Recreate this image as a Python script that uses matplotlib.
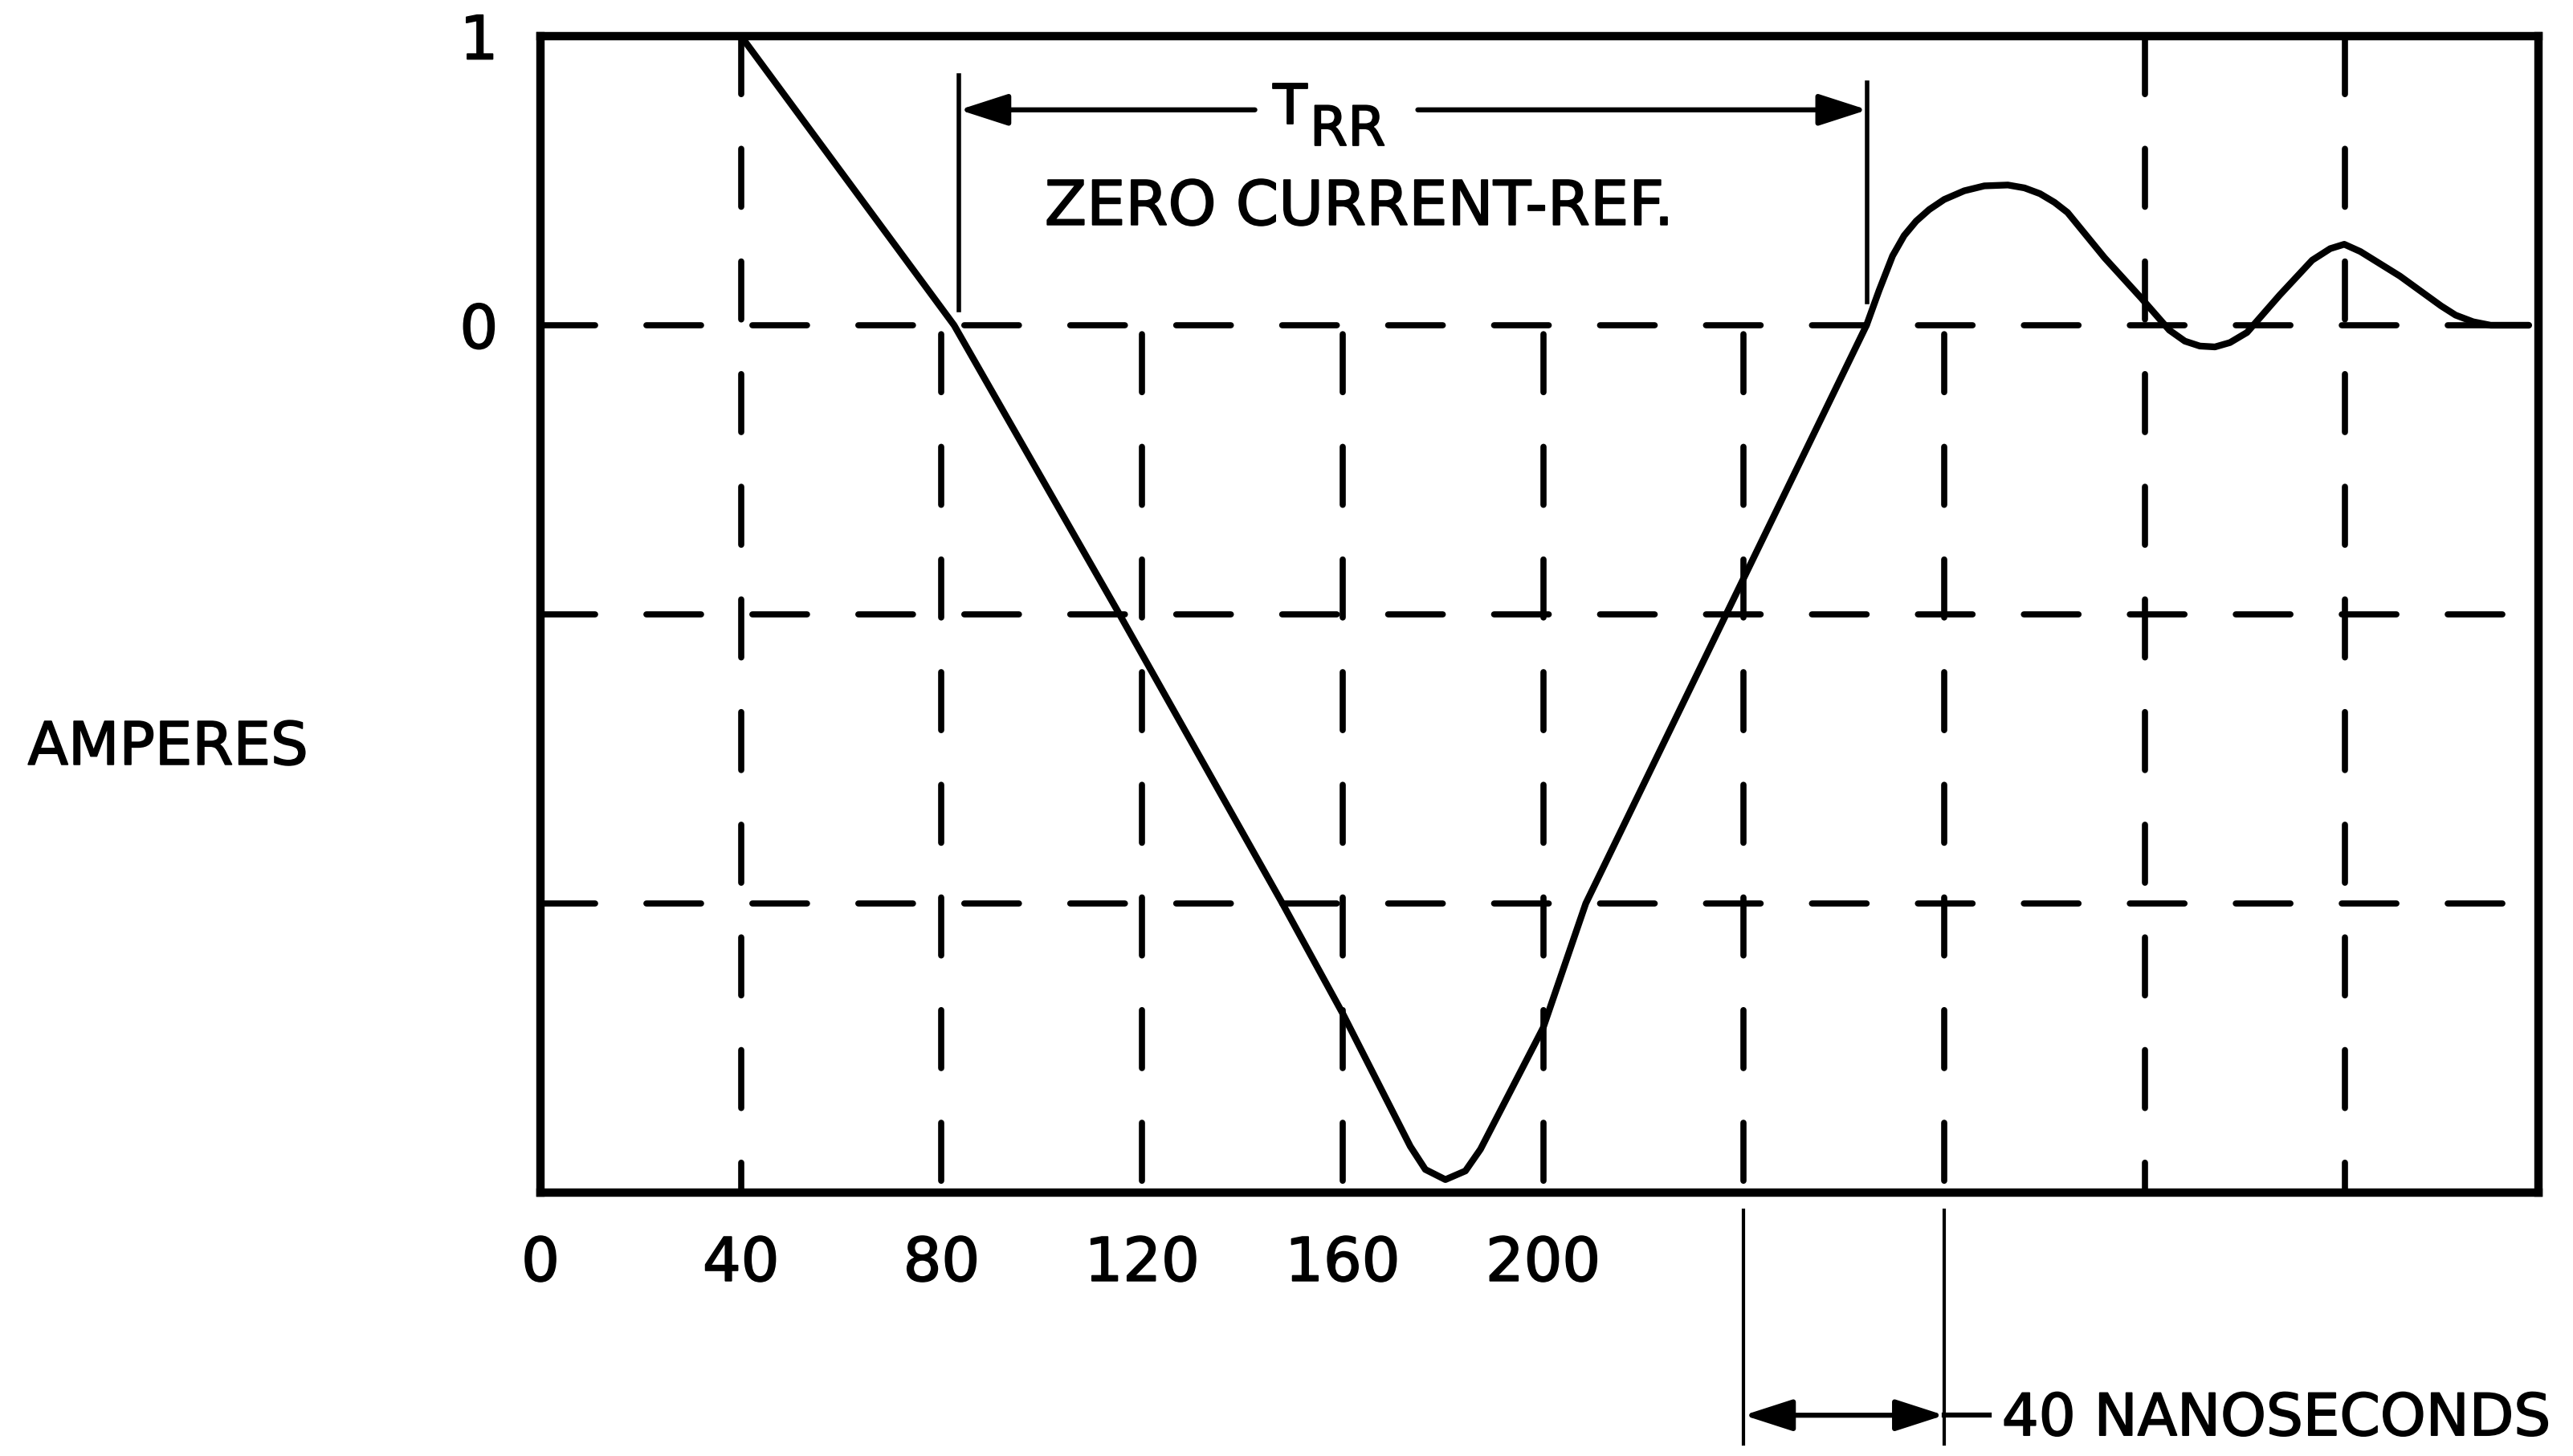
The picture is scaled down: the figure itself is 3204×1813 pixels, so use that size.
import matplotlib
matplotlib.use("Agg")
import matplotlib.pyplot as plt
import matplotlib.patheffects as pe

plt.rcParams['font.family'] = ['DejaVu Sans']
plt.rcParams['lines.scale_dashes'] = False

# reverse recovery current trace (time in ns, current in A)
time_ns = [40, 82.5, 115.5, 148, 160, 173.5, 176.5, 180.5, 184.5, 187.5, 200, 208.5,
           236.5, 264.5, 267, 269.7, 272, 274.4, 277, 280, 284, 288, 292.7, 296, 299.1,
           302, 304.6, 312, 319.3, 324.9, 328, 331, 334, 337, 340.4, 346.9, 353.4, 357,
           359.8, 363, 370.9, 379.1, 382, 385.5, 389, 396.6]
amps = [1.0, 0.0, -1.0, -2.0, -2.38, -2.84, -2.92, -2.955, -2.925, -2.85, -2.43, -2.0,
        -1.0, 0.0, 0.12, 0.24, 0.31, 0.36, 0.40, 0.435, 0.465, 0.482, 0.485, 0.475, 0.455,
        0.425, 0.39, 0.233, 0.094, -0.017, -0.055, -0.072, -0.075, -0.06, -0.025, 0.104,
        0.225, 0.265, 0.28, 0.255, 0.17, 0.067, 0.035, 0.012, 0.0, 0.0]

grid_x_full = [40, 320, 360]                    # run the whole height
grid_x_low = [80, 120, 160, 200, 240, 280]      # only below the zero line
grid_y = [0, -1, -2]
xtick_vals = [0, 40, 80, 120, 160, 200]
xtick_labels = ['0', '40', '80', '120', '160', '200']
ytick_vals = [1, 0]
ytick_labels = ['1', '0']

trr_start, trr_end = 83.5, 264.7     # zero crossings marking T_RR
scale_start, scale_end = 240, 280    # 40 ns scale bar

XMAX = 398.5
bold = [pe.withStroke(linewidth=1.3, foreground='black')]

fig = plt.figure(figsize=(32.05, 18.13), dpi=100)
ax = fig.add_axes([0.2100, 0.1809, 0.7762, 0.7943])
ax.set_xlim(0, XMAX)
ax.set_ylim(-3, 1)

for s in ax.spines.values():
    s.set_linewidth(7.5)

# dashed graticule
for gx in grid_x_full:
    ax.plot([gx, gx], [1, -3], color='black', lw=5.5, linestyle=(0, (52, 49)),
            dash_capstyle='round', zorder=1)
for gx in grid_x_low:
    ax.plot([gx, gx], [0, -3], color='black', lw=5.5, linestyle=(93, (52, 49)),
            dash_capstyle='round', zorder=1)
for gy in grid_y:
    ax.plot([0, XMAX], [gy, gy], color='black', lw=5.5, linestyle=(0, (49, 46)),
            dash_capstyle='round', zorder=1)

ax.plot(time_ns, amps, color='black', lw=6, solid_capstyle='round',
        solid_joinstyle='round', zorder=3)

ax.set_xticks(xtick_vals)
ax.set_xticklabels(xtick_labels, fontsize=54)
ax.set_yticks(ytick_vals)
ax.set_yticklabels(ytick_labels, fontsize=54)
ax.tick_params(axis='x', length=0, pad=38)
ax.tick_params(axis='y', length=0, pad=38)
for lab in ax.get_xticklabels() + ax.get_yticklabels():
    lab.set_path_effects(bold)

ax.text(-74.3, -1.462, 'AMPERES', fontsize=53, ha='center', va='center',
        clip_on=False, path_effects=bold)

# T_RR dimension
ax.plot([trr_start, trr_start], [0.864, 0.053], color='black', lw=4)
ax.plot([trr_end, trr_end], [0.84, 0.08], color='black', lw=4)
head = '-|>,head_length=0.62,head_width=0.2'
ax.annotate('', xy=(trr_start, 0.745), xytext=(142.5, 0.745),
            arrowprops=dict(arrowstyle=head, lw=4.5, color='black', mutation_scale=60,
                            shrinkA=0, shrinkB=0))
ax.annotate('', xy=(trr_end, 0.745), xytext=(175, 0.745),
            arrowprops=dict(arrowstyle=head, lw=4.5, color='black', mutation_scale=60,
                            shrinkA=0, shrinkB=0))
ax.text(149.5, 0.75, 'T', fontsize=50, ha='center', va='center', path_effects=bold)
ax.text(161, 0.675, 'RR', fontsize=49, ha='center', va='center', path_effects=bold)
ax.text(163.3, 0.406, 'ZERO CURRENT-REF.', fontsize=55, ha='center', va='center',
        path_effects=bold)

# 40 ns scale bar below the axis
for sx in [scale_start, scale_end]:
    ax.plot([sx, sx], [-3.06, -3.87], color='black', lw=3, clip_on=False)
ax.annotate('', xy=(scale_start, -3.77), xytext=(scale_end, -3.77),
            arrowprops=dict(arrowstyle='<|-|>,head_length=0.62,head_width=0.2', lw=4.5,
                            color='black', mutation_scale=60, shrinkA=0, shrinkB=0),
            annotation_clip=False)
ax.plot([scale_end, 289], [-3.77, -3.77], color='black', lw=4.5, clip_on=False)
ax.text(291.5, -3.785, '40 NANOSECONDS', fontsize=52, ha='left', va='center',
        clip_on=False, path_effects=bold)

fig.savefig('out.png', dpi=100, facecolor='white')
